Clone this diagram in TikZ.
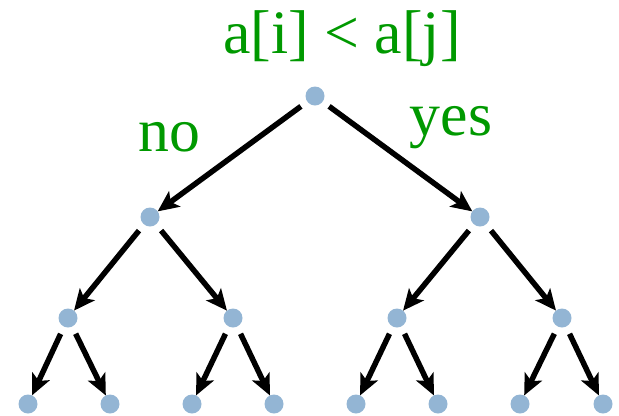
\documentclass[tikz,border=0pt]{standalone}
\usepackage{fontspec}
\setmainfont{Liberation Serif}
\usetikzlibrary{arrows.meta}
\definecolor{nodeblue}{RGB}{147,181,212}
\definecolor{lblgreen}{RGB}{0,153,0}
\tikzset{
  vert/.style={circle,fill=nodeblue,minimum size=19bp,inner sep=0pt,outer sep=0pt},
  edge/.style={line width=5.5bp,shorten <=8bp,-{Stealth[length=21bp,width=19bp,inset=5bp]}},
  lbl/.style={text=lblgreen,font=\fontsize{62}{70}\selectfont,inner sep=0pt,anchor=base}
}
\begin{document}
\begin{tikzpicture}[x=1bp,y=-1bp]
\useasboundingbox (0,0) rectangle (619,415);
\node[vert] (r) at (315,96) {};
\node[vert] (l) at (150,217) {};
\node[vert] (rr) at (480,217) {};
\node[vert] (ll) at (68,318) {};
\node[vert] (lr) at (233,318) {};
\node[vert] (rl) at (397,318) {};
\node[vert] (rrr) at (562,318) {};
\node[vert] (a1) at (28,404) {};
\node[vert] (a2) at (110,404) {};
\node[vert] (a3) at (192,404) {};
\node[vert] (a4) at (274,404) {};
\node[vert] (a5) at (356,404) {};
\node[vert] (a6) at (438,404) {};
\node[vert] (a7) at (520,404) {};
\node[vert] (a8) at (603,404) {};
\draw[edge] (r) -- (l);
\draw[edge] (r) -- (rr);
\draw[edge] (l) -- (ll);
\draw[edge] (l) -- (lr);
\draw[edge] (rr) -- (rl);
\draw[edge] (rr) -- (rrr);
\draw[edge] (ll) -- (a1);
\draw[edge] (ll) -- (a2);
\draw[edge] (lr) -- (a3);
\draw[edge] (lr) -- (a4);
\draw[edge] (rl) -- (a5);
\draw[edge] (rl) -- (a6);
\draw[edge] (rrr) -- (a7);
\draw[edge] (rrr) -- (a8);
\node[lbl] (t) at (342,53) {a[i] < a[j]};
\node[lbl] (no) at (169,151) {no};
\node[lbl] (yes) at (451,135) {yes};
\end{tikzpicture}
\end{document}
